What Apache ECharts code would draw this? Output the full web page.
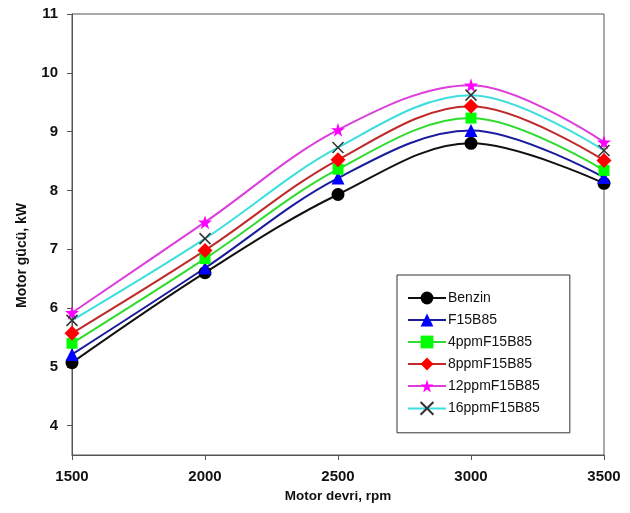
<!DOCTYPE html>
<html>
<head>
<meta charset="utf-8">
<script src="https://cdn.jsdelivr.net/npm/echarts@6/dist/echarts.min.js"></script>
<style>
  html, body { margin: 0; padding: 0; background: #fff; }
  #chart { width: 630px; height: 513px; }
</style>
</head>
<body>
<div id="chart"></div>
<script>
// motor speed (rpm) on the x axis
var rpm = [1500, 2000, 2500, 3000, 3500];
var yTicks = [4, 5, 6, 7, 8, 9, 10, 11];

// engine power, kW
var benzin     = [5.07, 6.60, 7.93, 8.80, 8.12];
var f15b85     = [5.21, 6.68, 8.21, 9.02, 8.22];
var ppm4F15B85  = [5.40, 6.84, 8.36, 9.23, 8.34];
var ppm8F15B85  = [5.57, 6.98, 8.52, 9.43, 8.51];
var ppm12F15B85 = [5.92, 7.46, 9.03, 9.79, 8.82];
var ppm16F15B85 = [5.79, 7.18, 8.73, 9.62, 8.68];

var names = ['Benzin', 'F15B85', '4ppmF15B85', '8ppmF15B85', '12ppmF15B85', '16ppmF15B85'];

var starPath = 'path://M50,0L61,35L98,35L68,57L79,91L50,70L21,91L32,57L2,35L39,35Z';
var crossPath = 'path://M0,0L10,10M10,0L0,10';

function pairs(vals) {
  return vals.map(function (v, i) { return [rpm[i], v]; });
}

function mkSeries(name, vals, lineColor, markColor, symbol, size, extra) {
  var s = {
    name: name,
    type: 'line',
    smooth: 0.35,
    data: pairs(vals),
    symbol: symbol,
    symbolSize: size,
    lineStyle: { color: lineColor, width: 2 },
    itemStyle: { color: markColor },
    z: 3
  };
  if (extra) {
    for (var k in extra) s[k] = extra[k];
  }
  return s;
}

var mychart = echarts.init(document.getElementById('chart'));
var option = {
  animation: false,
  textStyle: { fontFamily: 'Liberation Sans, Arial, sans-serif' },
  grid: {
    left: 72, right: 26, top: 14, bottom: 58,
    show: true, borderColor: '#555', borderWidth: 1
  },
  legend: {
    data: names,
    orient: 'vertical',
    left: 397,
    top: 275,
    padding: [16, 30, 17, 10],
    itemGap: 8,
    itemWidth: 38,
    itemHeight: 16,
    backgroundColor: '#fff',
    borderColor: '#333',
    borderWidth: 1,
    textStyle: { fontFamily: 'Liberation Sans Narrow, Liberation Sans, Arial', fontSize: 14, color: '#111', padding: [0, 0, 0, -3] }
  },
  xAxis: {
    type: 'value',
    min: 1500,
    max: 3500,
    interval: 500,
    name: 'Motor devri, rpm',
    nameLocation: 'middle',
    nameGap: 33,
    nameTextStyle: { fontWeight: 'bold', fontSize: 13.5, color: '#111' },
    axisLine: { onZero: false, lineStyle: { color: '#555' } },
    axisTick: { inside: false, length: 5, lineStyle: { color: '#555' } },
    axisLabel: { fontWeight: 'bold', fontSize: 15, color: '#111', margin: 14, formatter: function (v) { return String(v); } },
    splitLine: { show: false }
  },
  yAxis: {
    type: 'value',
    min: 3.5,
    max: 11,
    name: 'Motor gücü, kW',
    nameLocation: 'middle',
    nameGap: 43,
    nameTextStyle: { fontWeight: 'bold', fontSize: 14, color: '#111', padding: [0, 42, 0, 0] },
    axisLine: { show: true, lineStyle: { color: '#555' } },
    axisTick: { show: true, length: 5, customValues: yTicks, lineStyle: { color: '#555' } },
    axisLabel: { fontWeight: 'bold', fontSize: 15, color: '#111', margin: 14, customValues: yTicks },
    splitLine: { show: false }
  },
  series: [
    mkSeries(names[0], benzin, '#111111', '#000000', 'circle', 13),
    mkSeries(names[1], f15b85, '#1b1b9e', '#0000ff', 'triangle', 13),
    mkSeries(names[2], ppm4F15B85, '#2edc2e', '#00ff00', 'rect', 11),
    mkSeries(names[3], ppm8F15B85, '#c02a2a', '#ff0000', 'diamond', 15),
    mkSeries(names[4], ppm12F15B85, '#dd3ddd', '#ff00ff', starPath, 14),
    mkSeries(names[5], ppm16F15B85, '#3ddede', '#333333', crossPath, 11, {
      itemStyle: { color: 'rgba(0,0,0,0)', borderColor: '#333', borderWidth: 1.5 }
    })
  ]
};
mychart.setOption(option);
</script>
</body>
</html>
